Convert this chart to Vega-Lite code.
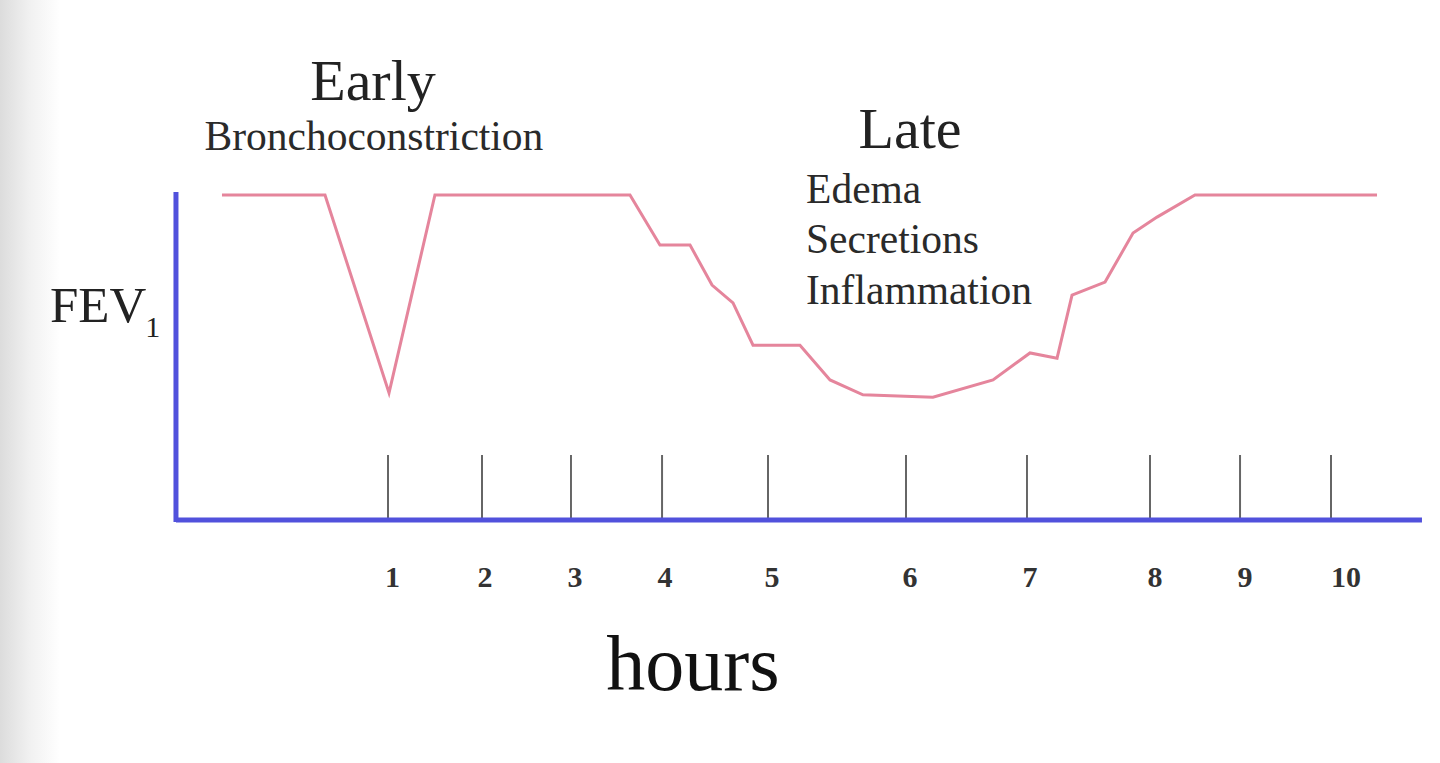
{
  "$schema": "https://vega.github.io/schema/vega-lite/v6.json",
  "width": 1440,
  "height": 763,
  "padding": 0,
  "autosize": {"type": "fit", "contains": "padding"},
  "background": "#ffffff",
  "config": {"view": {"stroke": null}, "font": "Liberation Serif"},
  "data": {"values": [{}]},
  "datasets": {
    "curve": [
      {"h": -0.584, "fev": 100},
      {"h": 0.399, "fev": 100},
      {"h": 1.010, "fev": 39.1},
      {"h": 1.448, "fev": 100},
      {"h": 3.309, "fev": 100},
      {"h": 3.595, "fev": 84.6},
      {"h": 3.882, "fev": 84.6},
      {"h": 4.092, "fev": 72.3},
      {"h": 4.292, "fev": 66.8},
      {"h": 4.483, "fev": 53.8},
      {"h": 4.931, "fev": 53.8},
      {"h": 5.218, "fev": 43.1},
      {"h": 5.532, "fev": 38.5},
      {"h": 6.200, "fev": 37.8},
      {"h": 6.773, "fev": 43.1},
      {"h": 7.126, "fev": 51.4},
      {"h": 7.384, "fev": 49.8},
      {"h": 7.527, "fev": 69.2},
      {"h": 7.842, "fev": 73.2},
      {"h": 8.109, "fev": 88.3},
      {"h": 8.338, "fev": 93.2},
      {"h": 8.700, "fev": 100},
      {"h": 10.437, "fev": 100}
    ],
    "ticks": [
      {"hour": "1", "pos": 1.0, "lpos": 1.043},
      {"hour": "2", "pos": 1.897, "lpos": 1.926},
      {"hour": "3", "pos": 2.746, "lpos": 2.784},
      {"hour": "4", "pos": 3.615, "lpos": 3.643},
      {"hour": "5", "pos": 4.626, "lpos": 4.665},
      {"hour": "6", "pos": 5.943, "lpos": 5.981},
      {"hour": "7", "pos": 7.097, "lpos": 7.126},
      {"hour": "8", "pos": 8.271, "lpos": 8.319},
      {"hour": "9", "pos": 9.130, "lpos": 9.178},
      {"hour": "10", "pos": 9.998, "lpos": 10.141}
    ],
    "big": [
      {"t": "Early", "x": 0.857, "y": 129.2},
      {"t": "Late", "x": 5.981, "y": 114.5}
    ],
    "mid": [
      {"t": "Bronchoconstriction", "x": 0.866, "y": 113.8}
    ],
    "late": [
      {"t": "Edema", "x": 4.989, "y": 97.5},
      {"t": "Secretions", "x": 4.989, "y": 82.2},
      {"t": "Inflammation", "x": 4.989, "y": 66.5}
    ]
  },
  "layer": [
    {
      "mark": {"type": "rect", "color": {"gradient": "linear", "x1": 0, "y1": 0, "x2": 1, "y2": 0, "stops": [{"offset": 0, "color": "#dcdcdc"}, {"offset": 0.5, "color": "#f1f1f1"}, {"offset": 1, "color": "#ffffff"}]}},
      "encoding": {
        "x": {"datum": -2.702, "type": "quantitative", "scale": {"domain": [-2.702, 11.038], "nice": false, "zero": false}, "axis": null},
        "x2": {"datum": -2.13},
        "y": {"datum": -74.77, "type": "quantitative", "scale": {"domain": [-74.77, 160], "nice": false, "zero": false}, "axis": null},
        "y2": {"datum": 160}
      }
    },
    {
      "data": {"name": "ticks"},
      "mark": {"type": "rule", "color": "#666666", "strokeWidth": 2},
      "encoding": {
        "x": {"field": "pos", "type": "quantitative"},
        "y": {"datum": 0},
        "y2": {"datum": 20}
      }
    },
    {
      "data": {"name": "ticks"},
      "mark": {"type": "text", "font": "Liberation Serif", "fontSize": 30, "fontWeight": "bold", "color": "#333333", "align": "center", "baseline": "alphabetic"},
      "encoding": {
        "x": {"field": "lpos", "type": "quantitative"},
        "y": {"datum": -20.6},
        "text": {"field": "hour"}
      }
    },
    {
      "mark": {"type": "rule", "color": "#5151dc", "strokeWidth": 5},
      "encoding": {
        "x": {"datum": -1.023},
        "y": {"datum": -0.6},
        "y2": {"datum": 100.9}
      }
    },
    {
      "mark": {"type": "rule", "color": "#5151dc", "strokeWidth": 5},
      "encoding": {
        "x": {"datum": -1.023},
        "x2": {"datum": 10.866},
        "y": {"datum": 0}
      }
    },
    {
      "data": {"name": "curve"},
      "mark": {"type": "line", "color": "#e5859c", "strokeWidth": 3},
      "encoding": {
        "x": {"field": "h", "type": "quantitative"},
        "y": {"field": "fev", "type": "quantitative"}
      }
    },
    {
      "data": {"name": "big"},
      "mark": {"type": "text", "font": "Liberation Serif", "fontSize": 58, "color": "#222222", "align": "center", "baseline": "alphabetic"},
      "encoding": {
        "x": {"field": "x", "type": "quantitative"},
        "y": {"field": "y", "type": "quantitative"},
        "text": {"field": "t"}
      }
    },
    {
      "data": {"name": "mid"},
      "mark": {"type": "text", "font": "Liberation Serif", "fontSize": 41.5, "color": "#2a2a2a", "align": "center", "baseline": "alphabetic"},
      "encoding": {
        "x": {"field": "x", "type": "quantitative"},
        "y": {"field": "y", "type": "quantitative"},
        "text": {"field": "t"}
      }
    },
    {
      "data": {"name": "late"},
      "mark": {"type": "text", "font": "Liberation Serif", "fontSize": 41.5, "color": "#2a2a2a", "align": "left", "baseline": "alphabetic"},
      "encoding": {
        "x": {"field": "x", "type": "quantitative"},
        "y": {"field": "y", "type": "quantitative"},
        "text": {"field": "t"}
      }
    },
    {
      "mark": {"type": "text", "font": "Liberation Serif", "fontSize": 51, "color": "#222222", "align": "left", "baseline": "alphabetic"},
      "encoding": {
        "x": {"datum": -2.225},
        "y": {"datum": 60.9},
        "text": {"value": "FEV"}
      }
    },
    {
      "mark": {"type": "text", "font": "Liberation Serif", "fontSize": 30, "color": "#222222", "align": "left", "baseline": "alphabetic"},
      "encoding": {
        "x": {"datum": -1.315},
        "y": {"datum": 56.3},
        "text": {"value": "1"}
      }
    },
    {
      "mark": {"type": "text", "font": "Liberation Serif", "fontSize": 78, "color": "#111111", "align": "center", "baseline": "alphabetic"},
      "encoding": {
        "x": {"datum": 3.91},
        "y": {"datum": -52.3},
        "text": {"value": "hours"}
      }
    }
  ]
}
